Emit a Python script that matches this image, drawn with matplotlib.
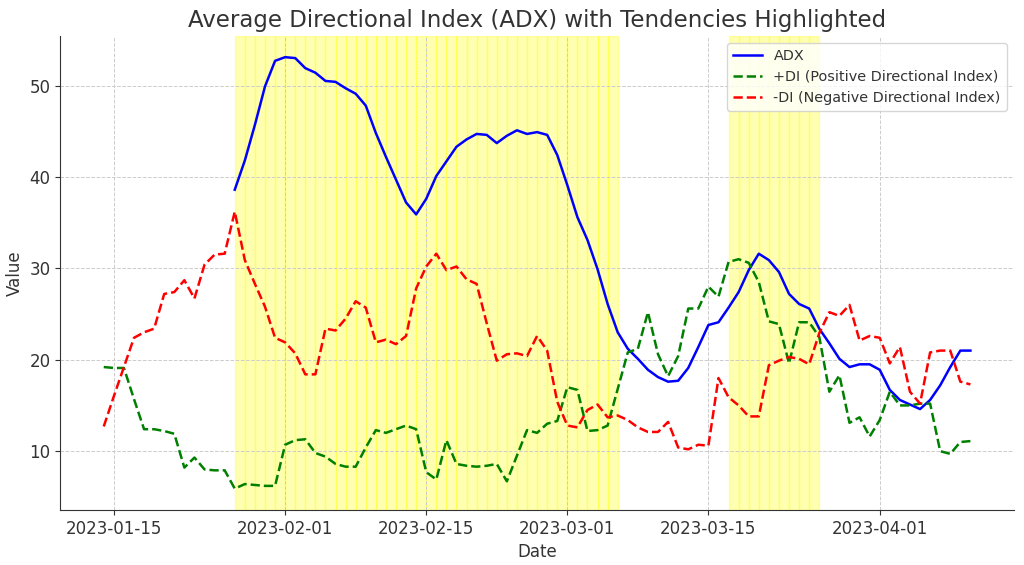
import matplotlib

matplotlib.use("Agg")
import matplotlib.pyplot as plt
import numpy as np
import pandas as pd

# ---------------------------------------------------------------------------
# Data
# ---------------------------------------------------------------------------

dates = pd.date_range("2023-01-14", periods=87, freq="D")

plus_di = [
    19.2, 19.1, 19.1, 15.7, 12.4, 12.4, 12.2, 11.9, 8.2, 9.3,
    8.0, 7.9, 7.9, 5.9, 6.4, 6.3, 6.2, 6.2, 10.7, 11.2,
    11.3, 9.8, 9.4, 8.6, 8.3, 8.3, 10.4, 12.3, 12.0, 12.4,
    12.8, 12.4, 7.7, 6.9, 11.2, 8.6, 8.4, 8.3, 8.4, 8.6,
    6.7, 9.5, 12.3, 12.0, 13.0, 13.3, 17.0, 16.7, 12.2, 12.3,
    12.8, 16.8, 20.8, 21.2, 25.2, 20.6, 18.2, 20.4, 25.6, 25.6,
    28.0, 26.9, 30.7, 31.0, 30.6, 28.5, 24.2, 23.9, 19.6, 24.1,
    24.1, 22.5, 16.5, 18.3, 13.1, 13.7, 11.6, 13.4, 16.5, 15.0,
    15.0, 15.2, 15.2, 10.0, 9.7, 11.0, 11.1,
]

minus_di = [
    12.7, 16.0, 19.2, 22.4, 23.0, 23.4, 27.2, 27.4, 28.7, 26.7,
    30.4, 31.5, 31.6, 36.2, 30.9, 28.3, 25.8, 22.4, 21.9, 20.7,
    18.4, 18.4, 23.4, 23.2, 24.5, 26.4, 25.7, 21.9, 22.2, 21.7,
    22.6, 27.8, 30.2, 31.6, 29.8, 30.2, 28.8, 28.3, 24.0, 19.9,
    20.6, 20.7, 20.4, 22.6, 21.0, 15.4, 12.8, 12.6, 14.5, 15.1,
    13.7, 13.9, 13.4, 12.6, 12.1, 12.1, 13.2, 10.4, 10.2, 10.7,
    10.6, 18.0, 15.9, 15.0, 13.8, 13.8, 19.4, 19.9, 20.3, 20.1,
    19.5, 22.9, 25.2, 24.8, 26.0, 22.1, 22.6, 22.4, 19.6, 21.4,
    16.5, 15.2, 20.8, 21.0, 21.0, 17.6, 17.3,
]

# ADX is undefined for the first 13 days (14-period window)
adx = [np.nan] * 13 + [
    38.6, 41.8, 45.7, 49.9, 52.7, 53.1, 53.0, 51.9, 51.4, 50.5,
    50.4, 49.7, 49.1, 47.8, 44.8, 42.2, 39.7, 37.2, 35.9, 37.6,
    40.1, 41.7, 43.3, 44.1, 44.7, 44.6, 43.7, 44.5, 45.1, 44.7,
    44.9, 44.6, 42.4, 39.1, 35.6, 33.1, 29.9, 26.1, 23.0, 21.2,
    20.1, 18.9, 18.1, 17.6, 17.7, 19.1, 21.4, 23.8, 24.1, 25.7,
    27.4, 29.8, 31.6, 30.9, 29.6, 27.2, 26.1, 25.6, 23.4, 21.8,
    20.1, 19.2, 19.5, 19.5, 18.9, 16.7, 15.6, 15.1, 14.6, 15.6,
    17.2, 19.2, 21.0, 21.0,
]

trend_threshold = 25

df = pd.DataFrame({"ADX": adx, "+DI": plus_di, "-DI": minus_di}, index=dates)

# ---------------------------------------------------------------------------
# Plot
# ---------------------------------------------------------------------------

text_color = "#333333"
plt.rcParams.update({
    "text.color": text_color,
    "axes.labelcolor": text_color,
    "xtick.color": text_color,
    "ytick.color": text_color,
    "axes.edgecolor": text_color,
})

fig, ax = plt.subplots(figsize=(10.24, 5.65), dpi=100)
fig.subplots_adjust(left=0.059, right=0.99, top=0.937, bottom=0.097)

ax.plot(df.index, df["ADX"], color="blue", linewidth=1.8, label="ADX")
ax.plot(df.index, df["+DI"], color="green", linestyle="--", linewidth=1.8,
        label="+DI (Positive Directional Index)")
ax.plot(df.index, df["-DI"], color="red", linestyle="--", linewidth=1.8,
        label="-DI (Negative Directional Index)")

# Highlight days with a strong trend (ADX above threshold)
one_day = pd.Timedelta(days=1)
for day, value in df["ADX"].items():
    if value > trend_threshold:
        ax.axvspan(day, day + one_day, color="yellow", alpha=0.3)

ax.set_title("Average Directional Index (ADX) with Tendencies Highlighted", fontsize=16.5)
ax.set_xlabel("Date", fontsize=12)
ax.set_ylabel("Value", fontsize=12)
ax.tick_params(labelsize=12)
ax.grid(True, linestyle="--", linewidth=0.7, color="#cccccc")
ax.spines["top"].set_visible(False)
ax.spines["right"].set_visible(False)
ax.legend(loc="upper right", fontsize=10.35)

fig.savefig("out.png")
